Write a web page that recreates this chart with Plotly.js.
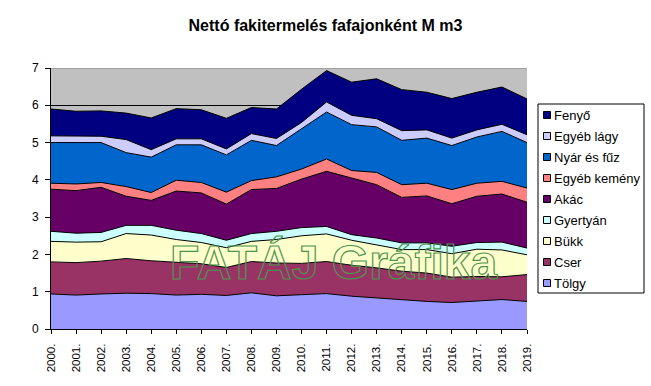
<!DOCTYPE html>
<html>
<head>
<meta charset="utf-8">
<script src="https://cdn.plot.ly/plotly-3.0.1.min.js"></script>
<style>html,body{margin:0;padding:0;background:#fff;}#chart{width:651px;height:386px;}</style>
</head>
<body>
<div id="chart"></div>
<script>
// ---- data (million m3) ----
const years = ['2000.','2001.','2002.','2003.','2004.','2005.','2006.','2007.','2008.','2009.',
               '2010.','2011.','2012.','2013.','2014.','2015.','2016.','2017.','2018.','2019.'];
const tolgy     = [0.94,0.91,0.94,0.96,0.95,0.91,0.93,0.90,0.97,0.89,0.92,0.95,0.88,0.83,0.77,0.74,0.71,0.74,0.79,0.74];
const cser      = [0.86,0.87,0.88,0.93,0.88,0.89,0.82,0.75,0.84,0.88,0.84,0.86,0.83,0.81,0.78,0.76,0.68,0.67,0.61,0.72];
const bukk      = [0.55,0.55,0.52,0.67,0.69,0.60,0.57,0.53,0.54,0.63,0.74,0.74,0.67,0.62,0.58,0.63,0.63,0.73,0.72,0.53];
const gyertyan  = [0.27,0.24,0.25,0.22,0.26,0.25,0.24,0.20,0.21,0.22,0.22,0.20,0.15,0.18,0.18,0.18,0.20,0.18,0.21,0.18];
const akac      = [1.13,1.14,1.21,0.78,0.67,1.05,1.09,0.97,1.18,1.15,1.30,1.48,1.52,1.43,1.22,1.26,1.14,1.24,1.29,1.23];
const egyebKem  = [0.16,0.18,0.13,0.26,0.21,0.29,0.28,0.32,0.24,0.31,0.27,0.33,0.20,0.33,0.34,0.34,0.38,0.35,0.34,0.38];
const nyar      = [1.09,1.11,1.07,0.91,0.95,0.95,1.01,1.00,1.08,0.84,1.08,1.26,1.23,1.22,1.19,1.21,1.18,1.24,1.34,1.22];
const egyebLagy = [0.18,0.17,0.17,0.35,0.20,0.16,0.16,0.16,0.18,0.19,0.17,0.27,0.25,0.22,0.26,0.22,0.20,0.19,0.19,0.21];
const fenyo     = [0.72,0.67,0.68,0.71,0.85,0.81,0.78,0.82,0.70,0.79,0.89,0.84,0.89,1.07,1.10,1.01,1.06,1.01,1.00,0.96];

const seriesNames  = ['Tölgy','Cser','Bükk','Gyertyán','Akác','Egyéb kemény','Nyár és fűz','Egyéb lágy','Fenyő'];
const seriesValues = [tolgy, cser, bukk, gyertyan, akac, egyebKem, nyar, egyebLagy, fenyo];
const seriesColors = ['#9999FF','#993366','#FFFFCC','#CCFFFF','#660066','#FF8080','#0066CC','#CCCCFF','#000080'];
const yTicks = [0,1,2,3,4,5,6,7];

// ---- layout geometry ----
const W = 651, H = 386;
const M = {l: 51, r: 124, t: 68, b: 57};
const pw = W - M.l - M.r, ph = H - M.t - M.b;
const xp = px => (px - M.l) / pw;
const yp = py => (H - M.b - py) / ph;
const FONT = 'Arial, "Liberation Sans", sans-serif';

const traces = seriesNames.map((n, i) => ({
  type: 'scatter', mode: 'lines', name: n,
  x: years, y: seriesValues[i],
  stackgroup: 'one',
  fillcolor: seriesColors[i],
  line: {color: '#000000', width: 1},
  showlegend: false,
  hoverinfo: 'x+y+name'
}));

// custom legend (Excel style), top-down order Fenyő ... Tölgy
const shapes = [
  {type: 'line', xref: 'paper', yref: 'y', x0: 0, x1: 1, y0: 7, y1: 7,
   line: {color: '#808080', width: 1}, layer: 'above'},
  {type: 'rect', xref: 'paper', yref: 'paper', x0: xp(538), x1: xp(644), y0: yp(104), y1: yp(293),
   line: {color: '#000000', width: 1}, fillcolor: '#FFFFFF', layer: 'above'}
];
const annotations = [];
const order = seriesNames.map((_, i) => i).reverse();
order.forEach((si, k) => {
  const cy = 115 + 21 * k;
  shapes.push({type: 'rect', xref: 'paper', yref: 'paper',
    x0: xp(543.5), x1: xp(550.5), y0: yp(cy - 3.5), y1: yp(cy + 3.5),
    fillcolor: seriesColors[si], line: {color: '#000000', width: 1}, layer: 'above'});
  annotations.push({xref: 'paper', yref: 'paper', x: xp(552), y: yp(cy),
    xanchor: 'left', yanchor: 'middle', showarrow: false, text: seriesNames[si],
    font: {family: FONT, size: 13, color: '#000000'}});
});
// watermark
annotations.push({xref: 'paper', yref: 'paper', x: xp(334), y: yp(262), xanchor: 'center', yanchor: 'middle',
  showarrow: false, text: '<b>FATÁJ Gráfika</b>', font: {family: FONT, size: 48, color: '#4E944E'}});

const layout = {
  width: W, height: H,
  margin: M,
  paper_bgcolor: '#FFFFFF',
  plot_bgcolor: '#C0C0C0',
  showlegend: false,
  title: {text: '<b>Nettó fakitermelés fafajonként M m3</b>', font: {family: FONT, size: 16, color: '#000'},
          x: 0.5, xref: 'container', xanchor: 'center', y: 1 - 25/H, yref: 'container', yanchor: 'middle'},
  xaxis: {type: 'category', range: [0, years.length - 1], tickangle: -90,
          showline: true, linecolor: '#000', linewidth: 1, ticks: 'outside', ticklen: 4, tickcolor: '#000',
          showgrid: false, zeroline: false, ticklabelstandoff: 5,
          tickfont: {family: FONT, size: 11.5, color: '#000'}, fixedrange: true},
  yaxis: {range: [0, 7], tickvals: yTicks, ticktext: yTicks.map(String),
          showline: true, linecolor: '#000', linewidth: 1, ticks: 'outside', ticklen: 5, tickcolor: '#000',
          showgrid: true, gridcolor: '#000', gridwidth: 1, zeroline: false, ticklabelstandoff: 4,
          tickfont: {family: FONT, size: 12, color: '#000'}, fixedrange: true},
  shapes: shapes,
  annotations: annotations
};

Plotly.newPlot('chart', traces, layout, {displayModeBar: false, staticPlot: true}).then(() => {
  document.querySelectorAll('.annotation-text').forEach(el => {
    if (el.textContent === 'FATÁJ Gráfika') {
      el.style.fill = 'none';
      el.style.stroke = '#4E944E';
      el.style.strokeWidth = '1.2px';
      el.querySelectorAll('tspan').forEach(t => { t.style.fill = 'none'; });
    }
  });
});
</script>
</body>
</html>
